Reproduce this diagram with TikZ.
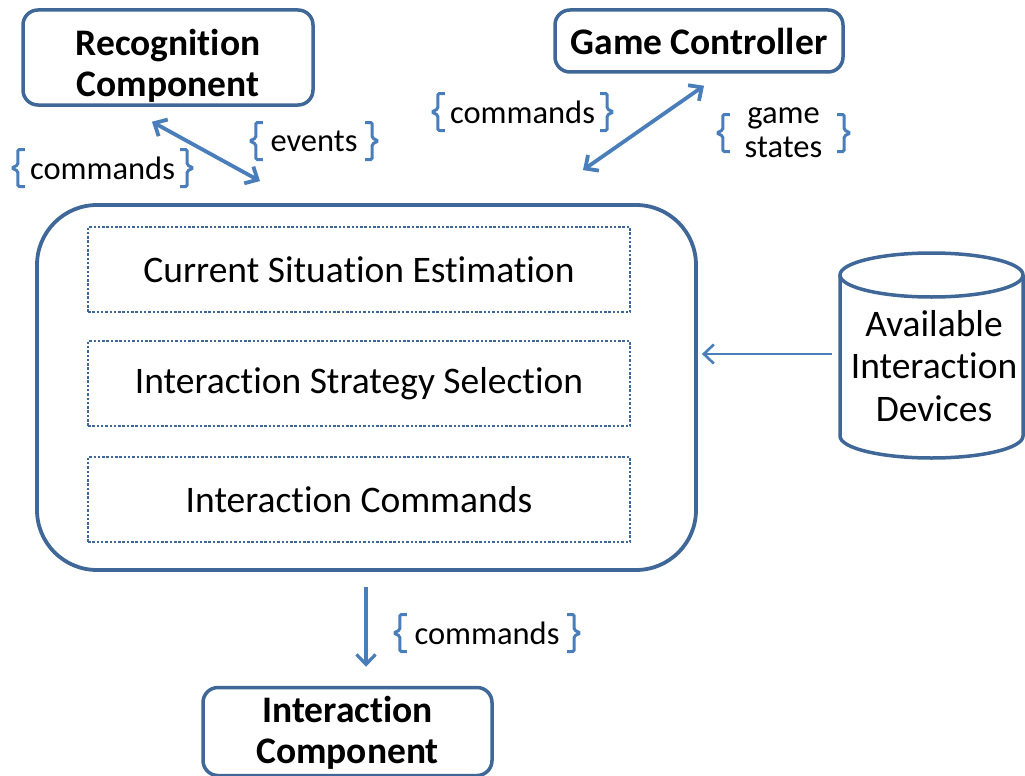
\documentclass[tikz,border=0pt]{standalone}
\usepackage{fontspec}
\setmainfont{Carlito}[Ligatures=NoCommon]
\usetikzlibrary{arrows.meta,calc}
\definecolor{boxc}{HTML}{3F6797}
\definecolor{arrc}{HTML}{4A7EBB}
\newcommand\bigf{\fontsize{37.5}{41}\selectfont}
\newcommand\lblf{\fontsize{32.5}{34}\selectfont}
\newcommand\twolines[3]{\raisebox{#1}[\height][\depth]{\begin{tabular}{@{}c@{}}#2\\#3\end{tabular}}}
\newcommand\bracepair[1]{%
 \draw[brc] ([xshift=13pt,yshift=18.5pt]#1.west) -- ([xshift=6pt,yshift=18.5pt]#1.west) -- ([xshift=6pt,yshift=3pt]#1.west) -- (#1.west) -- ([xshift=6pt,yshift=-3pt]#1.west) -- ([xshift=6pt,yshift=-18.5pt]#1.west) -- ([xshift=13pt,yshift=-18.5pt]#1.west);
 \draw[brc] ([xshift=-13pt,yshift=18.5pt]#1.east) -- ([xshift=-6pt,yshift=18.5pt]#1.east) -- ([xshift=-6pt,yshift=3pt]#1.east) -- (#1.east) -- ([xshift=-6pt,yshift=-3pt]#1.east) -- ([xshift=-6pt,yshift=-18.5pt]#1.east) -- ([xshift=-13pt,yshift=-18.5pt]#1.east);
}
\tikzset{
 comp/.style={draw=boxc, line width=3.5pt, rounded corners=15pt, align=center, font=\bigf\bfseries, inner sep=0pt},
 stagebox/.style={draw=boxc, line width=2.5pt, dash pattern=on 2.5pt off 1.8pt, minimum width=542pt, minimum height=85pt, font=\bigf, inner sep=0pt},
 lbl/.style={font=\lblf, inner xsep=0pt, inner ysep=0pt, align=center},
 brc/.style={draw=arrc, line width=3pt, rounded corners=1.5pt},
 conn/.style={draw=arrc, line width=3.8pt, {Straight Barb[length=10pt,width=19pt]}-{Straight Barb[length=10pt,width=19pt]}},
 flow/.style={draw=arrc, line width=3.2pt, -{Straight Barb[length=10pt,width=19pt]}}
}
\begin{document}
\begin{tikzpicture}[x=1pt,y=-1pt]
\useasboundingbox (0,0) rectangle (1025,776);
% components
\node[comp, minimum width=290pt, minimum height=95pt] (rec) at (168,57.5) {\twolines{-10.5pt}{Recognition}{Component}};
\node[comp, minimum width=288pt, minimum height=62pt] (game) at (699,41) {Game Controller};
\node[comp, minimum width=289pt, minimum height=88pt] (inter) at (347.5,731.5) {\twolines{-3.5pt}{Interaction}{Component}};
% main box
\node[draw=boxc, line width=3.8pt, rounded corners=60pt, minimum width=659pt, minimum height=365pt] (main) at (366.5,387.5) {};
\node[stagebox] (s1) at (359,269.5) {Current Situation Estimation};
\node[stagebox] (s2) at (359,383.5) {Interaction Strategy Selection};
\node[stagebox] (s3) at (359,499.5) {Interaction Commands};
% database cylinder
\draw[boxc, line width=3.5pt] (840,275) -- (840,436) arc (180:0:91.5 and 22) -- (1023,275);
\draw[boxc, line width=3.5pt] (931.5,275) ellipse (91.5 and 22);
\node[font=\bigf, align=center, inner sep=0pt] (dev) at (934,366) {Available\\[1.5pt]Interaction\\[1.5pt]Devices};
\coordinate (devw) at (832,354);
% labels
\node[lbl, minimum width=181pt] (l1) at (102.5,168) {commands};
\node[lbl, minimum width=128pt] (l2) at (314,141) {events};
\node[lbl, minimum width=181pt] (l3) at (522.5,112) {commands};
\node[lbl, minimum width=133pt] (l4) at (783.5,133) {game\\states};
\node[lbl, minimum width=186pt] (l5) at (487,633) {commands};
\bracepair{l1}
\bracepair{l2}
\bracepair{l3}
\bracepair{l4}
\bracepair{l5}
% connectors
\draw[conn] ([xshift=-16pt,yshift=-15pt]rec.south) -- ([xshift=-106.5pt,yshift=22pt]main.north);
\draw[conn] ([xshift=5pt,yshift=-12pt]game.south) -- ([xshift=216.5pt,yshift=33pt]main.north);
\draw[flow, line width=2.6pt] (devw) -- ([xshift=4pt,yshift=33.5pt]main.east);
\draw[flow] ([yshift=-15pt,xshift=-0.5pt]main.south) -- ([xshift=18.5pt,yshift=19pt]inter.north);
\end{tikzpicture}
\end{document}
